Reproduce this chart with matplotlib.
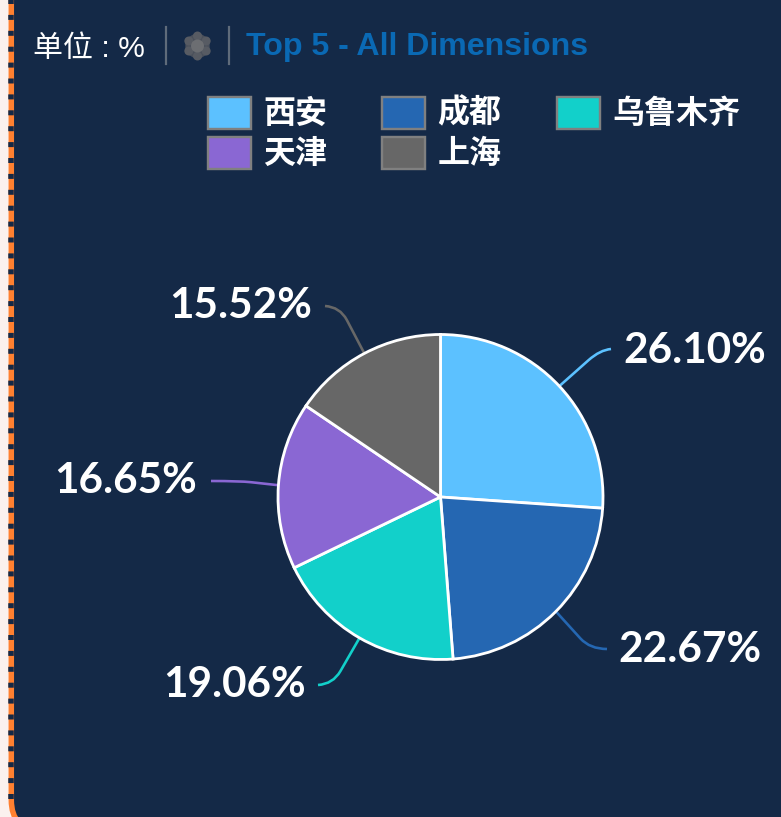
import numpy as np
import matplotlib
matplotlib.use("Agg")
import matplotlib.pyplot as plt
from matplotlib.patches import FancyBboxPatch, Rectangle, RegularPolygon, Circle, PathPatch
from matplotlib.path import Path
from matplotlib.lines import Line2D

names = ['西安', '成都', '乌鲁木齐', '天津', '上海']
values = [26.10, 22.67, 19.06, 16.65, 15.52]
colors = ['#5CC1FF', '#2567B2', '#12D0CA', '#8A67D3', '#676767']
value_labels = ['26.10%', '22.67%', '19.06%', '16.65%', '15.52%']
unit_text = '单位 : %'
title_text = 'Top 5 - All Dimensions'

W, H = 781, 817
NAVY = '#142947'
ORANGE = '#FF8030'
PX = 72 / 100

fig = plt.figure(figsize=(W / 100, H / 100), dpi=100, facecolor='#FBF1EE')
ax = fig.add_axes([0, 0, 1, 1])
ax.set_xlim(0, W)
ax.set_ylim(0, H)
ax.axis('off')


def Y(py):
    return H - py


# panel with a rounded lower-left corner
ax.add_patch(FancyBboxPatch((11.3, Y(830)), 900, 900,
                            boxstyle='round,pad=0,rounding_size=30',
                            fc=NAVY, ec=ORANGE, lw=5.5 * PX, zorder=1))
ax.add_line(Line2D([11.3, 11.3], [Y(-0.9), Y(799)], color=NAVY, lw=5.5 * PX,
                   linestyle=(0, (5 / 5.5, 10.9 / 5.5)),
                   dash_capstyle='butt', zorder=2))

# header
ax.text(33, Y(49), unit_text, color='white', fontsize=30 * PX, va='center', ha='left',
        family=['Liberation Sans', 'Noto Sans CJK SC'], zorder=5)
for x in (166, 229):
    ax.add_line(Line2D([x, x], [Y(27), Y(64)], color='#5F6B7A', lw=2.2 * PX, zorder=5))
# hexagonal icon built from soft lobes
ax.add_patch(RegularPolygon((197.5, Y(46)), 6, radius=14, fc='#4A505B', ec='none', zorder=5))
for a in np.deg2rad(np.arange(0, 360, 60) + 30):
    ax.add_patch(Circle((197.5 + 10 * np.cos(a), Y(46) + 10 * np.sin(a)), 4.5,
                        fc='#575B63', ec='none', zorder=6))
ax.add_patch(Circle((197.5, Y(46)), 6.5, fc='#6C6E72', ec='none', zorder=7))

ax.text(246, Y(46.5), title_text, color='#0A69B4', fontsize=32.2 * PX, fontweight='bold',
        family='Liberation Sans', va='center', ha='left', zorder=5)

# legend
col_x = [207, 381, 556]
row_y = [96, 136]
for i, (name, color) in enumerate(zip(names, colors)):
    x = col_x[i % 3]
    y = row_y[i // 3]
    ax.add_patch(Rectangle((x + 1, Y(y + 33)), 43, 32, fc=color, ec='#808080',
                           lw=2.4 * PX, zorder=5))
    ax.text(x + 56.5, Y(y + 17.5), name, color='white', fontsize=32 * PX, fontweight='bold',
            family=['Noto Sans CJK SC', 'DejaVu Sans'], va='center', ha='left', zorder=5)

# pie
cx, cy, r = 440.5, 497, 162.5
ax.pie(values, colors=colors, startangle=90, counterclock=False, center=(cx, Y(cy)),
       radius=r, frame=True, wedgeprops=dict(edgecolor='white', linewidth=2.8 * PX, zorder=4))
ax.set_xlim(0, W)
ax.set_ylim(0, H)
ax.set_aspect('auto')
ax.axis('off')

# leader lines and value labels
knees = [(600, 350), (590, 649), (333, 684), (240, 481), (340, 307)]
ends = [(611, 349), (607, 649), (318, 685), (211, 481), (325, 306)]
text_pos = [(623.5, 351, 'left'), (618.5, 650, 'left'), (306, 685, 'right'),
            (197, 481, 'right'), (312, 306, 'right')]
mids = (np.cumsum(values) - np.array(values) / 2) / sum(values) * 2 * np.pi
for m, color, knee, end, tp, lab in zip(mids, colors, knees, ends, text_pos, value_labels):
    sx, sy = cx + r * np.sin(m), cy - r * np.cos(m)
    t = 0.72
    mx, my = sx + (knee[0] - sx) * t, sy + (knee[1] - sy) * t
    verts = [(sx, Y(sy)), (mx, Y(my)), (knee[0], Y(knee[1])), (end[0], Y(end[1]))]
    codes = [Path.MOVETO, Path.LINETO, Path.CURVE3, Path.CURVE3]
    ax.add_patch(PathPatch(Path(verts, codes), fc='none', ec=color, lw=2.6 * PX, zorder=3))
    ax.text(tp[0], Y(tp[1]), lab, color='white', fontsize=42.2 * PX, fontweight='bold',
            family='Lato', va='center', ha=tp[2], zorder=5)

fig.savefig('out.png', dpi=100, facecolor=fig.get_facecolor())
